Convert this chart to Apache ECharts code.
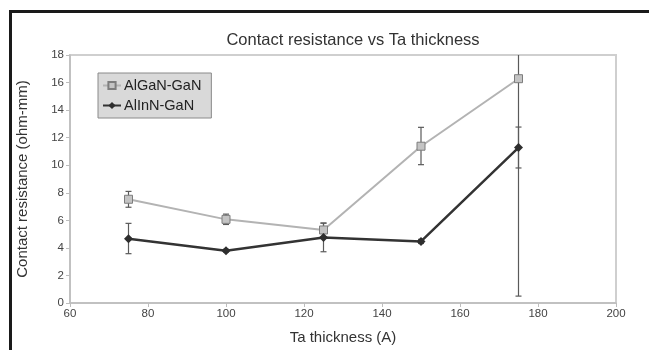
<!DOCTYPE html>
<html>
<head>
<meta charset="utf-8">
<script src="https://cdn.jsdelivr.net/npm/echarts@6/dist/echarts.min.js"></script>
<style>
  html, body { margin: 0; padding: 0; background: #fff; }
  #main { width: 649px; height: 350px; }
</style>
</head>
<body>
<div id="main"></div>
<script>
// Ta thickness (A)
const thickness = [75, 100, 125, 150, 175];

// AlGaN-GaN contact resistance and error bar ends
const alganValues = [7.53, 6.07, 5.3, 11.38, 16.28];
const alganLow = [6.95, 5.7, 4.8, 10.04, 0.5];
const alganHigh = [8.1, 6.45, 5.8, 12.75, 32.1];

// AlInN-GaN contact resistance and error bar ends
const alinnValues = [4.66, 3.8, 4.76, 4.47, 11.28];
const alinnLow = [3.58, 3.7, 3.72, 4.32, 9.8];
const alinnHigh = [5.78, 3.9, 5.8, 4.62, 12.77];

const chart = echarts.init(document.getElementById('main'));

function errorData(low, high) {
  return thickness.map((x, i) => [x, low[i], high[i]]);
}

function renderErrorBar(params, api) {
  const x = api.value(0);
  const lo = api.coord([x, api.value(1)]);
  const hi = api.coord([x, api.value(2)]);
  const cap = 3;
  const style = { stroke: '#5a5a5a', lineWidth: 1.2 };
  return {
    type: 'group',
    children: [
      { type: 'line', shape: { x1: lo[0], y1: lo[1], x2: hi[0], y2: hi[1] }, style: style },
      { type: 'line', shape: { x1: lo[0] - cap, y1: lo[1], x2: lo[0] + cap, y2: lo[1] }, style: style },
      { type: 'line', shape: { x1: hi[0] - cap, y1: hi[1], x2: hi[0] + cap, y2: hi[1] }, style: style }
    ]
  };
}

const font = 'Liberation Sans, Arial, sans-serif';

const option = {
  backgroundColor: '#fff',
  animation: false,
  textStyle: { fontFamily: font },
  title: {
    text: 'Contact resistance vs Ta thickness',
    left: 348,
    textAlign: 'center',
    top: 27,
    textStyle: { fontFamily: font, fontSize: 16.5, fontWeight: 'normal', color: '#333' }
  },
  graphic: [
    {
      type: 'rect',
      shape: { x: 10.5, y: 11.5, width: 700, height: 400 },
      style: { fill: 'none', stroke: '#1a1a1a', lineWidth: 3 },
      silent: true
    }
  ],
  legend: {
    left: 98,
    top: 73,
    orient: 'vertical',
    backgroundColor: '#d9d9d9',
    borderColor: '#8a8a8a',
    borderWidth: 1,
    borderRadius: 0,
    padding: [5, 10, 5, 4],
    itemWidth: 18,
    itemHeight: 9,
    itemGap: 5,
    textStyle: { fontFamily: font, fontSize: 14.5, color: '#222', padding: [0, 0, 0, -2] },
    data: ['AlGaN-GaN', 'AlInN-GaN']
  },
  grid: {
    left: 70,
    right: 33,
    top: 55,
    bottom: 47,
    show: true,
    borderColor: '#cfcfcf',
    borderWidth: 2,
    backgroundColor: 'transparent'
  },
  xAxis: {
    type: 'value',
    min: 60,
    max: 200,
    interval: 20,
    name: 'Ta thickness (A)',
    nameLocation: 'middle',
    nameGap: 27,
    nameTextStyle: { fontFamily: font, fontSize: 15, color: '#333' },
    axisLine: { lineStyle: { color: '#bdbdbd', width: 1.5 } },
    axisTick: { show: true, length: 4, lineStyle: { color: '#bdbdbd' } },
    axisLabel: { fontFamily: font, fontSize: 11.5, color: '#444', margin: 5 },
    splitLine: { show: false }
  },
  yAxis: {
    type: 'value',
    min: 0,
    max: 18,
    interval: 2,
    name: 'Contact resistance (ohm-mm)',
    nameLocation: 'middle',
    nameGap: 40,
    nameTextStyle: { fontFamily: font, fontSize: 15, color: '#333' },
    axisLine: { show: true, lineStyle: { color: '#bdbdbd', width: 1.5 } },
    axisTick: { show: true, length: 4, lineStyle: { color: '#bdbdbd' } },
    axisLabel: { fontFamily: font, fontSize: 11.5, color: '#444', margin: 6 },
    splitLine: { show: false }
  },
  series: [
    {
      name: 'AlGaN-GaN',
      type: 'line',
      data: thickness.map((x, i) => [x, alganValues[i]]),
      symbol: 'rect',
      symbolSize: 8,
      lineStyle: { color: '#b3b3b3', width: 2 },
      itemStyle: { color: '#c4c4c4', borderColor: '#7d7d7d', borderWidth: 1 },
      z: 3
    },
    {
      name: 'AlInN-GaN',
      type: 'line',
      data: thickness.map((x, i) => [x, alinnValues[i]]),
      symbol: 'diamond',
      symbolSize: 9,
      lineStyle: { color: '#333', width: 2.5 },
      itemStyle: { color: '#2e2e2e' },
      z: 4
    },
    {
      name: 'AlGaN-GaN err',
      type: 'custom',
      renderItem: renderErrorBar,
      data: errorData(alganLow, alganHigh),
      clip: true,
      encode: { x: 0, y: [1, 2] },
      z: 2
    },
    {
      name: 'AlInN-GaN err',
      type: 'custom',
      renderItem: renderErrorBar,
      data: errorData(alinnLow, alinnHigh),
      clip: true,
      encode: { x: 0, y: [1, 2] },
      z: 2
    }
  ]
};

chart.setOption(option);
</script>
</body>
</html>
